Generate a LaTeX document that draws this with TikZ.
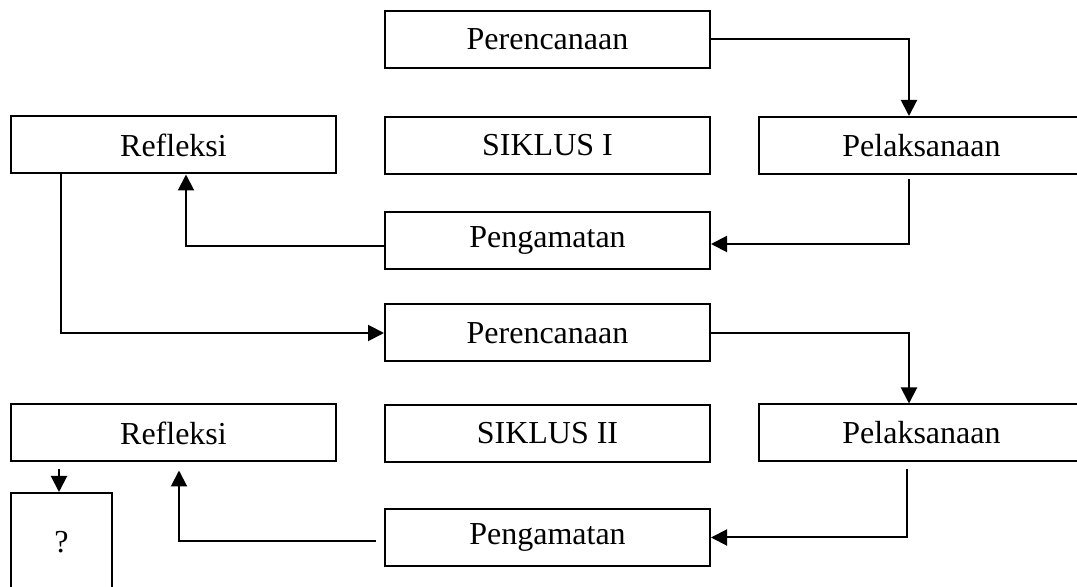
\documentclass[tikz,border=0pt]{standalone}
\usepackage{fontspec}
\setmainfont{Liberation Serif}
\usetikzlibrary{positioning,arrows.meta}

\begin{document}
\begin{tikzpicture}[x=0.5pt,y=-0.5pt,
	kotak/.style={shape=rectangle,draw,line width=1pt,minimum width=162.5pt,minimum height=28.5pt,inner sep=0pt,font=\fontsize{16}{19}\selectfont},
	panah/.style={line width=1pt,-{Triangle[length=8pt,width=8pt]}}]
	\useasboundingbox (0,0) rectangle (1077,587);
	\clip (0,0) rectangle (1077,587);

	% Siklus I
	\node [kotak] (perI) at (547.5,39.5) {Perencanaan};
	\node [kotak] (refI) at (173.5,145) {Refleksi};
	\node [kotak] (sikI) at (547.5,145.5) {SIKLUS I};
	\node [kotak] (pelI) at (921.5,145.5) {Pelaksanaan};
	\node [kotak] (pengI) at (547.5,240.5) {Pengamatan};

	% Siklus II
	\node [kotak] (perII) at (547.5,333) {Perencanaan};
	\node [kotak] (refII) at (173.5,433) {Refleksi};
	\node [kotak] (sikII) at (547.5,433.5) {SIKLUS II};
	\node [kotak] (pelII) at (921.5,433) {Pelaksanaan};
	\node [kotak] (pengII) at (547.5,537.5) {Pengamatan};

	\node [kotak,minimum width=50.5pt,minimum height=49pt] (tanya) at (61.5,542) {?};

	% alur siklus I
	\draw[panah] (perI.east) -| ([xshift=-6.25pt]pelI.north);
	\draw[panah,shorten <=2pt] ([xshift=-6.25pt]pelI.south) |- ([yshift=-1.75pt]pengI.east);
	\draw[panah] ([yshift=-2.75pt]pengI.west) -| ([xshift=6.25pt]refI.south);
	\draw[panah] ([xshift=-56.25pt]refI.south) |- (perII.west);

	% alur siklus II
	\draw[panah] (perII.east) -| ([xshift=-6.25pt]pelII.north);
	\draw[panah,shorten <=3.5pt] ([xshift=-7.25pt]pelII.south) |- (pengII.east);
	\draw[panah,shorten <=4pt,shorten >=4pt] ([yshift=-1.75pt]pengII.west) -| ([xshift=2.75pt]refII.south);
	\draw[panah,shorten <=3.5pt] ([xshift=-57.25pt]refII.south) -- ([xshift=-57.25pt]refII.south |- tanya.north);
\end{tikzpicture}
\end{document}
